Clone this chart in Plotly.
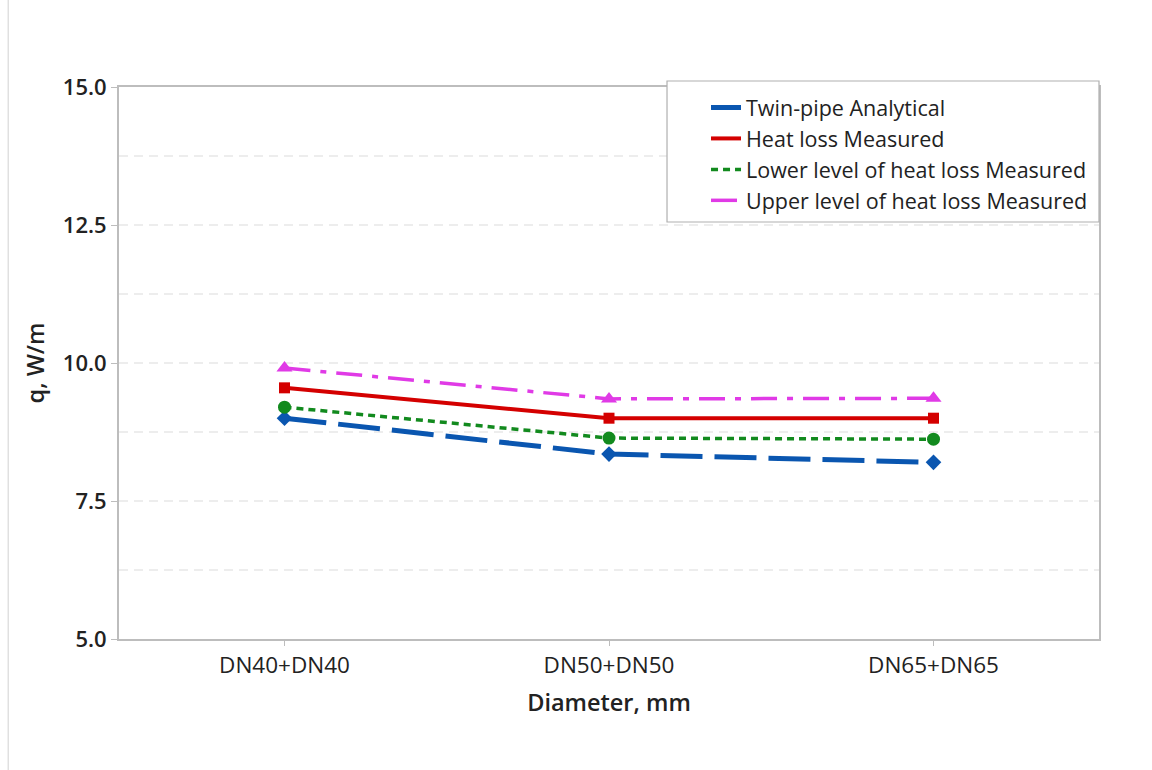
import plotly.graph_objects as go

# Pipe pairs on the x axis
categories = ["DN40+DN40", "DN50+DN50", "DN65+DN65"]

# Linear heat loss, W/m
twin_pipe_analytical = [9.0, 8.35, 8.2]
heat_loss_measured = [9.55, 9.0, 9.0]
lower_level_measured = [9.2, 8.64, 8.62]
upper_level_measured = [9.91, 9.35, 9.36]

y_ticks = [5.0, 7.5, 10.0, 12.5, 15.0]
y_minor = [6.25, 8.75, 11.25, 13.75]

FONT = "Open Sans, Noto Sans, sans-serif"
TEXT = "#222222"

series = [
    ("Twin-pipe Analytical", twin_pipe_analytical, "#0a56b0", 5, "42px,12px", "diamond", 12),
    ("Heat loss Measured", heat_loss_measured, "#d40000", 4, "solid", "square", 11),
    ("Lower level of heat loss Measured", lower_level_measured, "#128a1e", 3.5, "7px,5px", "circle", 13),
    ("Upper level of heat loss Measured", upper_level_measured, "#e03ae6", 3.5, "26px,10px,6px,10px", "triangle-up", 14),
]

fig = go.Figure()

# Lines carry the legend entries; markers are drawn separately so the
# legend shows only the line style
for name, values, color, width, dash, symbol, size in series:
    fig.add_trace(go.Scatter(
        x=categories, y=values, name=name, mode="lines",
        line=dict(color=color, width=width, dash=dash),
    ))
for name, values, color, width, dash, symbol, size in series:
    fig.add_trace(go.Scatter(
        x=categories, y=values, name=name, mode="markers", showlegend=False,
        marker=dict(symbol=symbol, size=size, color=color),
    ))

# Dashed horizontal grid at every 1.25 W/m
for v in y_ticks[1:-1] + y_minor:
    fig.add_shape(type="line", xref="paper", yref="y", x0=0, x1=1, y0=v, y1=v,
                  line=dict(color="#dcdcdc", width=1.2, dash="9px,6px"), layer="below")

# Thin page rule on the left edge
fig.add_shape(type="line", xref="paper", yref="paper",
              x0=-0.113, x1=-0.113, y0=-0.24, y1=1.16,
              line=dict(color="#e0e0e0", width=1.5))

# Framed panel behind the legend, flush with the right edge of the plot
fig.add_shape(type="rect", xref="paper", yref="paper",
              x0=0.5592, x1=1.0, y0=0.7554, y1=1.0109,
              fillcolor="white", line=dict(color="#b0b0b0", width=1.2), layer="above")

fig.update_layout(
    width=1152, height=770,
    margin=dict(l=119, r=53, t=87, b=131),
    paper_bgcolor="white", plot_bgcolor="white",
    font=dict(family=FONT, color=TEXT, size=22),
    showlegend=True,
    legend=dict(
        x=0.599, y=1.0, xanchor="left", yanchor="top",
        bgcolor="rgba(0,0,0,0)", borderwidth=0,
        font=dict(size=21.5, color=TEXT),
        tracegroupgap=0,
    ),
    xaxis=dict(
        range=[-0.51, 2.51], showgrid=False, zeroline=False,
        showline=True, linecolor="#bdbdbd", linewidth=2, mirror=True,
        ticks="outside", ticklen=5, tickcolor="#bdbdbd",
        tickfont=dict(size=22.5, color=TEXT),
        title=dict(text="Diameter, mm", font=dict(size=23.5, weight=600, color=TEXT), standoff=16),
    ),
    yaxis=dict(
        range=[5, 15], tickvals=y_ticks, ticktext=[f"{v:.1f}" for v in y_ticks],
        showgrid=False, zeroline=False,
        showline=True, linecolor="#bdbdbd", linewidth=2, mirror=True,
        ticks="outside", ticklen=6, tickcolor="#bdbdbd",
        tickfont=dict(size=22, color=TEXT, weight=600),
        title=dict(text="q, W/m", font=dict(size=23.5, weight=600, color=TEXT), standoff=12),
    ),
)

fig.write_html("out.html")
